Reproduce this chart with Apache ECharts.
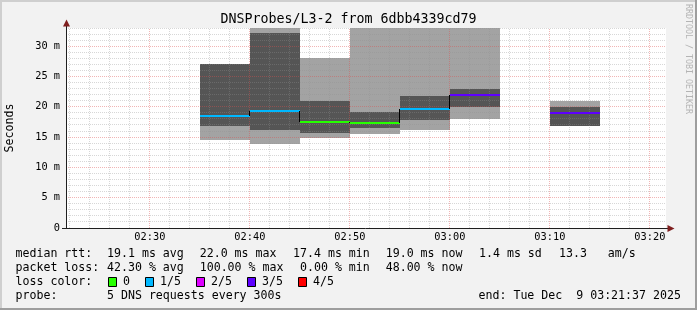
<!DOCTYPE html>
<html><head><meta charset="utf-8">
<script src="https://cdn.jsdelivr.net/npm/echarts@6/dist/echarts.min.js"></script>
<style>html,body{margin:0;padding:0;background:#f2f2f2}#c{width:697px;height:310px}</style>
</head><body><div id="c"></div><script>
// ---- data ----
const chartTitle = 'DNSProbes/L3-2 from 6dbb4339cd79';
const yAxisName = 'Seconds';
const timeStart = '02:21:37';
const timeEnd = '03:21:37';
const stepMinutes = 5;
const stepStarts = ['02:35', '02:40', '02:45', '02:50', '02:55', '03:00', '03:10'];
const pingLowest  = [14.5, 13.9, 14.8, 15.55, 16.2, 17.95, 16.9];
const pingLow     = [16.8, 16.2, 15.7, 16.55, 17.8, 20.0, 16.9];
const pingHigh    = [27.1, 32.2, 20.95, 19.15, 21.8, 22.95, 19.95];
const pingHighest = [27.1, 33.0, 28.05, 33.0, 33.0, 33.0, 20.95];
const medianRtt   = [18.4, 19.3, 17.55, 17.4, 19.7, 22.0, 19.0];
const lossCount   = [1, 1, 0, 0, 1, 3, 3];
const lossLabels  = ['0', '1/5', '2/5', '3/5', '4/5'];
const lossColors  = ['#26ff00', '#00b8ff', '#dd00ff', '#5e00ff', '#ff0000'];
const xTickLabels = ['02:30', '02:40', '02:50', '03:00', '03:10', '03:20'];
const yMax = 33;
const yMajorStep = 5;
const medianStats = ['19.1 ms avg', '22.0 ms max', '17.4 ms min', '19.0 ms now', '1.4 ms sd', '13.3   am/s'];
const lossStats   = ['42.30 % avg', '100.00 % max', '0.00 % min', '48.00 % now'];
const probeText = '5 DNS requests every 300s';
const endText = 'end: Tue Dec  9 03:21:37 2025';
const watermark = 'RRDTOOL / TOBI OETIKER';

// ---- helpers ----
const FONT = 'DejaVu Sans Mono';
const toMin = s => { const p = s.split(':').map(Number); return p[0] * 60 + p[1] + (p[2] || 0) / 60; };
const xMin = toMin(timeStart), xMax = toMin(timeEnd);
const pad2 = n => String(n).padStart(2, '0');
const fmtHM = v => { const r = Math.round(v); return pad2(Math.floor(r / 60)) + ':' + pad2(r % 60); };
const xTickValues = xTickLabels.map(toMin);

const steps = stepStarts.map((s, i) => [toMin(s), toMin(s) + stepMinutes, pingLowest[i], pingLow[i], pingHigh[i], pingHighest[i], medianRtt[i], lossCount[i]]);

const gridLines = [];
for (let t = Math.ceil(xMin / 2) * 2; t < xMax; t += 2) gridLines.push([0, t, t % 10 === 0 ? 1 : 0]);
for (let v = 1; v <= yMax; v++) gridLines.push([1, v, v % yMajorStep === 0 ? 1 : 0]);

const chart = echarts.init(document.getElementById('c'), null, {renderer: 'canvas'});

function smokeItem(params, api) {
  const x0 = api.value(0), x1 = api.value(1);
  const mk = (lo, hi, fill) => {
    const a = api.coord([x0, Math.min(hi, yMax)]), b = api.coord([x1, lo]);
    const L = Math.round(a[0]), R = Math.round(b[0]), T = Math.round(a[1]), B = Math.round(b[1]);
    return {type: 'rect', shape: {x: L, y: T, width: R - L, height: B - T}, style: {fill: fill}};
  };
  return {type: 'group', children: [
    mk(api.value(2), api.value(5), '#a3a3a3'),
    mk(api.value(3), api.value(4), '#555555')
  ]};
}

function gridItem(params, api) {
  const kind = api.value(0), v = api.value(1), major = api.value(2);
  const stroke = major ? 'rgba(222,79,79,0.42)' : 'rgba(143,143,143,0.36)';
  let shape;
  if (kind === 0) {
    const a = api.coord([v, 0]), b = api.coord([v, yMax]);
    const x = Math.floor(a[0]) + 0.5;
    shape = {x1: x, y1: a[1], x2: x, y2: b[1]};
  } else {
    const a = api.coord([xMin, v]), b = api.coord([xMax, v]);
    const y = Math.floor(a[1]) + 0.5;
    shape = {x1: a[0], y1: y, x2: b[0], y2: y};
  }
  return {type: 'line', shape: shape, style: {stroke: stroke, lineWidth: 1, lineDash: [1, 1]}};
}

function medianItem(params, api) {
  const i = params.dataIndex;
  const x0 = api.value(0), x1 = api.value(1), m = api.value(6), loss = api.value(7);
  const a = api.coord([x0, m]), b = api.coord([x1, m]);
  const L = Math.round(a[0]), R = Math.round(b[0]);
  const y = Math.round(a[1]);
  const children = [];
  if (i > 0 && steps[i - 1][1] === x0) {
    const py = Math.round(api.coord([x0, steps[i - 1][6]])[1]);
    children.push({type: 'line', shape: {x1: L - 0.5, y1: py, x2: L - 0.5, y2: y}, style: {stroke: '#000', lineWidth: 1}});
  }
  children.push({type: 'rect', shape: {x: L, y: y - 1, width: R - L, height: 2}, style: {fill: lossColors[loss]}});
  return {type: 'group', children: children};
}

// legend graphics
const txt = (x, y, text, extra) => Object.assign({type: 'text', x: x, y: y, silent: true,
  style: {text: text, fill: '#000', font: '11.6px "' + FONT + '"', verticalAlign: 'middle', align: 'left'}}, extra || {});
const legendRows = [254, 268, 282, 296];
const gfx = [
  // frame
  {type: 'rect', shape: {x: 0, y: 0, width: 697, height: 2}, style: {fill: '#cfcfcf'}, silent: true},
  {type: 'rect', shape: {x: 0, y: 0, width: 2, height: 310}, style: {fill: '#cfcfcf'}, silent: true},
  {type: 'rect', shape: {x: 0, y: 308, width: 697, height: 2}, style: {fill: '#9e9e9e'}, silent: true},
  {type: 'rect', shape: {x: 695, y: 0, width: 2, height: 310}, style: {fill: '#9e9e9e'}, silent: true},
  // axes
  {type: 'line', shape: {x1: 66.5, y1: 228, x2: 66.5, y2: 25}, style: {stroke: '#1f1f1f', lineWidth: 1}, z: 50},
  {type: 'line', shape: {x1: 62, y1: 228.5, x2: 669, y2: 228.5}, style: {stroke: '#1f1f1f', lineWidth: 1}, z: 50},
  {type: 'polygon', shape: {points: [[66.5, 19.5], [63, 26.5], [70, 26.5]]}, style: {fill: '#7f1f1f'}, z: 51},
  {type: 'polygon', shape: {points: [[674.5, 228.5], [667.5, 225], [667.5, 232]]}, style: {fill: '#7f1f1f'}, z: 51},
  // axis name + watermark
  {type: 'text', x: 10, y: 128, rotation: Math.PI / 2, silent: true,
   style: {text: yAxisName, fill: '#000', font: '11.6px "' + FONT + '"', align: 'center', verticalAlign: 'middle'}},
  {type: 'text', x: 688, y: 4, rotation: -Math.PI / 2, silent: true,
   style: {text: watermark, fill: '#b4b4b4', font: '8.3px "' + FONT + '"', align: 'left', verticalAlign: 'middle'}},
  // legend rows
  txt(15.5, legendRows[0], 'median rtt:'),
  txt(15.5, legendRows[1], 'packet loss:'),
  txt(15.5, legendRows[2], 'loss color:'),
  txt(15.5, legendRows[3], 'probe:'),
  txt(107, legendRows[3], probeText),
  txt(478.5, legendRows[3], endText)
];
[107, 199.7, 293, 385.7, 479, 559].forEach((x, k) => gfx.push(txt(x, legendRows[0], medianStats[k])));
[107, 199.7, 300, 385.7].forEach((x, k) => gfx.push(txt(x, legendRows[1], lossStats[k])));
[108.5, 145.5, 196.5, 247.5, 298.5].forEach((x, k) => {
  gfx.push({type: 'rect', shape: {x: x, y: 277.5, width: 8, height: 9}, style: {fill: lossColors[k], stroke: '#000', lineWidth: 1}, silent: true});
  gfx.push(txt(x + 14.5, legendRows[2], lossLabels[k]));
});

const option = {
  animation: false,
  backgroundColor: '#f2f2f2',
  title: {text: chartTitle, left: 'center', top: 12, padding: 0,
    textStyle: {fontFamily: FONT, fontSize: 13.3, fontWeight: 'normal', color: '#000', lineHeight: 16}},
  grid: {left: 66, top: 28, width: 600, height: 200, show: true, backgroundColor: '#ffffff', borderWidth: 0},
  xAxis: {type: 'value', min: xMin, max: xMax,
    axisLine: {show: false}, axisTick: {show: false, customValues: xTickValues}, splitLine: {show: false},
    axisLabel: {customValues: xTickValues, formatter: v => fmtHM(v), margin: 4,
      fontFamily: FONT, fontSize: 10.3, color: '#000'}},
  yAxis: {type: 'value', min: 0, max: yMax, interval: yMajorStep,
    axisLine: {show: false}, axisTick: {show: false}, splitLine: {show: false},
    axisLabel: {formatter: v => (v % yMajorStep !== 0 ? '' : (v === 0 ? '0' : v + ' m')), margin: 6,
      fontFamily: FONT, fontSize: 10.3, color: '#000'}},
  series: [
    {type: 'custom', name: 'smoke', z: 2, silent: true, renderItem: smokeItem, data: steps},
    {type: 'custom', name: 'grid', z: 3, silent: true, renderItem: gridItem, data: gridLines},
    {type: 'custom', name: 'median rtt', z: 4, silent: true, renderItem: medianItem, data: steps}
  ],
  graphic: gfx
};
chart.setOption(option);
</script></body></html>
